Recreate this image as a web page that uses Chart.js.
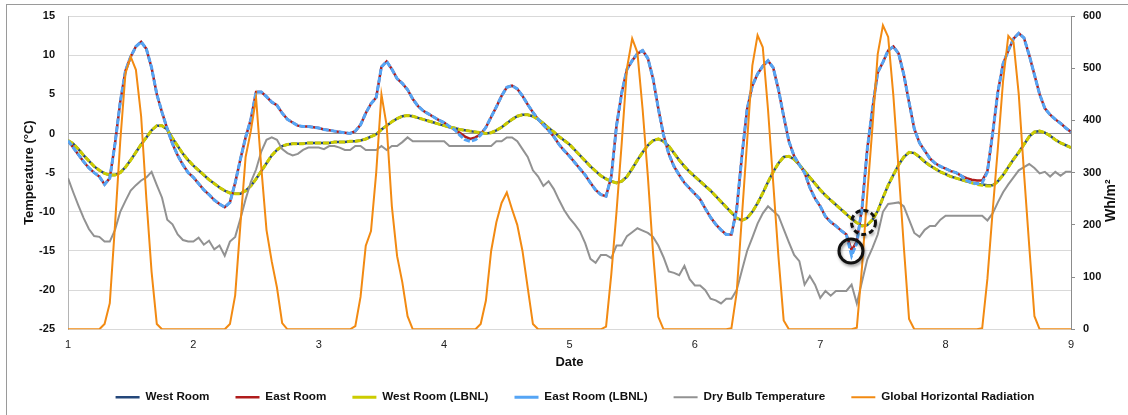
<!DOCTYPE html>
<html>
<head>
<meta charset="utf-8">
<script src="https://cdn.jsdelivr.net/npm/chart.js@4.4.1/dist/chart.umd.min.js"></script>
<style>
html, body { margin: 0; padding: 0; background: #fff; }
#wrap { position: relative; width: 1128px; height: 415px; overflow: hidden; }
#frame { position: absolute; left: 6px; top: 4px; width: 1130px; height: 420px; border-left: 1px solid #9a9a9a; border-top: 1px solid #9a9a9a; }
canvas { position: absolute; left: 0; top: 0; }
</style>
</head>
<body>
<div id="wrap"><div id="frame"></div><canvas id="tempChart" width="1128" height="415"></canvas></div>
<script>
// hourly readings, one row per day (day 1 .. day 8, then the first hour of day 9)
var westRoom = [
  -0.9,-1.3,-2.0,-2.8,-3.5,-4.2,-4.7,-5.1,-5.3,-5.3,-5.0,-4.3,-3.4,-2.4,-1.4,-0.5,0.4,1.0,1.0,0.5,-0.6,-1.6,-2.6,-3.4,
  -4.1,-4.7,-5.3,-5.9,-6.4,-6.9,-7.3,-7.6,-7.7,-7.7,-7.3,-6.7,-5.8,-4.8,-3.8,-2.8,-2.1,-1.6,-1.4,-1.3,-1.3,-1.3,-1.2,-1.2,
  -1.2,-1.2,-1.2,-1.1,-1.1,-1.1,-1.0,-1.0,-0.9,-0.7,-0.4,-0.1,0.5,1.0,1.5,1.9,2.2,2.3,2.2,2.0,1.8,1.6,1.4,1.2,
  1.0,0.8,0.7,0.5,0.4,0.3,0.2,0.1,0.0,0.1,0.4,0.8,1.3,1.8,2.2,2.4,2.4,2.2,1.8,1.3,0.7,0.2,-0.4,-0.9,
  -1.4,-2.1,-2.8,-3.5,-4.2,-4.8,-5.4,-5.8,-6.1,-6.3,-6.1,-5.5,-4.5,-3.4,-2.4,-1.5,-0.9,-0.7,-1.0,-1.6,-2.5,-3.4,-4.2,-4.9,
  -5.5,-6.1,-6.7,-7.3,-8.0,-8.7,-9.4,-10.1,-10.8,-11.1,-10.8,-10.0,-8.9,-7.6,-6.2,-4.9,-3.8,-3.0,-2.9,-3.3,-4.0,-4.8,-5.6,-6.4,
  -7.2,-7.9,-8.5,-9.1,-9.7,-10.3,-10.9,-11.4,-11.8,-11.7,-11.0,-9.9,-8.2,-6.6,-5.3,-4.0,-3.0,-2.4,-2.5,-3.0,-3.6,-4.1,-4.5,-4.9,
  -5.2,-5.5,-5.7,-5.9,-6.1,-6.3,-6.4,-6.5,-6.6,-6.6,-6.1,-5.3,-4.3,-3.3,-2.4,-1.4,-0.4,0.2,0.3,0.1,-0.3,-0.8,-1.2,-1.5,
  -1.8
];
var eastRoom = [
  -0.9,-1.8,-2.7,-3.6,-4.4,-5.0,-5.5,-6.5,-5.7,-1.3,4.0,8.0,9.8,11.1,11.7,10.8,8.4,5.0,2.7,0.6,-1.3,-2.8,-4.0,-5.0,
  -5.6,-6.4,-7.2,-7.8,-8.5,-9.0,-9.4,-8.8,-6.3,-3.3,-0.5,1.8,5.3,5.3,4.7,4.0,3.6,2.6,1.8,1.4,1.0,0.9,0.9,0.8,
  0.7,0.5,0.4,0.3,0.2,0.1,0.0,0.3,1.1,2.6,3.8,4.6,8.5,9.2,8.2,7.0,6.4,5.6,4.4,3.5,2.9,2.5,2.1,1.7,
  1.4,0.9,0.5,0.1,-0.4,-0.7,-0.5,-0.1,0.8,2.1,3.4,4.8,5.9,6.1,5.7,4.8,3.7,2.7,1.8,1.1,0.4,-0.4,-1.4,-2.2,
  -2.9,-3.7,-4.5,-5.3,-6.3,-7.2,-7.8,-8.0,-5.5,1.0,5.2,8.2,9.3,10.2,10.6,9.6,7.0,3.2,-0.2,-2.6,-4.2,-5.3,-6.3,-7.0,
  -7.7,-8.4,-9.6,-10.7,-11.6,-12.3,-12.9,-12.9,-9.7,-2.9,3.1,6.1,7.6,8.6,9.3,8.4,5.6,2.2,-1.0,-2.9,-4.0,-5.0,-6.9,-8.3,
  -9.3,-10.6,-11.3,-11.8,-12.4,-12.9,-14.9,-13.8,-9.5,-2.0,3.2,7.8,9.1,10.6,11.1,10.2,7.5,4.0,0.6,-1.2,-2.2,-3.2,-3.8,-4.2,
  -4.5,-4.8,-5.0,-5.4,-5.7,-5.9,-6.0,-6.0,-4.8,0.0,5.3,8.9,10.6,12.1,12.8,12.2,10.0,7.5,5.0,3.2,2.4,1.8,1.3,0.7,
  0.2
];
var westLbnl = [
  -0.9,-1.3,-2.0,-2.8,-3.5,-4.2,-4.7,-5.1,-5.3,-5.3,-5.0,-4.3,-3.4,-2.4,-1.4,-0.5,0.4,1.0,1.0,0.5,-0.6,-1.6,-2.6,-3.4,
  -4.1,-4.7,-5.3,-5.9,-6.4,-6.9,-7.3,-7.6,-7.7,-7.7,-7.3,-6.7,-5.8,-4.8,-3.8,-2.8,-2.1,-1.6,-1.4,-1.3,-1.3,-1.3,-1.2,-1.2,
  -1.2,-1.2,-1.2,-1.1,-1.1,-1.1,-1.0,-1.0,-0.9,-0.7,-0.4,-0.1,0.5,1.0,1.5,1.9,2.2,2.3,2.2,2.0,1.8,1.6,1.4,1.2,
  1.0,0.8,0.7,0.5,0.4,0.3,0.2,0.1,0.0,0.1,0.4,0.8,1.3,1.8,2.2,2.4,2.4,2.2,1.8,1.3,0.7,0.2,-0.4,-0.9,
  -1.4,-2.1,-2.8,-3.5,-4.2,-4.8,-5.4,-5.8,-6.1,-6.3,-6.1,-5.5,-4.5,-3.4,-2.4,-1.5,-0.9,-0.7,-1.0,-1.6,-2.5,-3.4,-4.2,-4.9,
  -5.5,-6.1,-6.7,-7.3,-8.0,-8.7,-9.4,-10.1,-10.8,-11.1,-10.8,-10.0,-8.9,-7.6,-6.2,-4.9,-3.8,-3.0,-2.9,-3.3,-4.0,-4.8,-5.6,-6.4,
  -7.2,-7.9,-8.5,-9.1,-9.7,-10.3,-10.9,-11.4,-11.8,-11.7,-11.0,-9.9,-8.2,-6.6,-5.3,-4.0,-3.0,-2.4,-2.5,-3.0,-3.6,-4.1,-4.5,-4.9,
  -5.2,-5.5,-5.7,-5.9,-6.1,-6.3,-6.5,-6.6,-6.7,-6.7,-6.1,-5.3,-4.3,-3.3,-2.4,-1.4,-0.4,0.2,0.3,0.1,-0.3,-0.8,-1.2,-1.5,
  -1.8
];
var eastLbnl = [
  -0.9,-1.8,-2.7,-3.6,-4.4,-5.0,-5.5,-6.5,-5.7,-1.3,4.0,8.0,9.8,11.1,11.7,10.8,8.4,5.0,2.7,0.6,-1.3,-2.8,-4.0,-5.0,
  -5.6,-6.4,-7.2,-7.8,-8.5,-9.0,-9.4,-8.8,-6.3,-3.3,-0.5,1.8,5.3,5.3,4.7,4.0,3.6,2.6,1.8,1.4,1.0,0.9,0.9,0.8,
  0.7,0.5,0.4,0.3,0.2,0.1,0.0,0.3,1.1,2.6,3.8,4.6,8.5,9.2,8.2,7.0,6.4,5.6,4.4,3.5,2.9,2.5,2.1,1.7,
  1.4,0.9,0.5,-0.2,-0.8,-1.0,-0.8,-0.2,0.8,2.1,3.4,4.8,5.9,6.1,5.7,4.8,3.7,2.7,1.8,1.1,0.4,-0.4,-1.4,-2.2,
  -2.9,-3.7,-4.5,-5.3,-6.3,-7.2,-7.8,-8.0,-5.5,1.0,5.2,8.2,9.3,10.2,10.6,9.6,7.0,3.2,-0.2,-2.6,-4.2,-5.3,-6.3,-7.0,
  -7.7,-8.4,-9.6,-10.7,-11.6,-12.3,-12.9,-12.9,-9.7,-2.9,3.1,6.1,7.6,8.6,9.3,8.4,5.6,2.2,-1.0,-2.9,-4.0,-5.0,-6.9,-8.3,
  -9.3,-10.6,-11.3,-11.8,-12.4,-12.9,-15.6,-14.0,-9.5,-2.0,3.2,7.8,9.1,10.6,11.1,10.2,7.5,4.0,0.6,-1.2,-2.2,-3.2,-3.8,-4.2,
  -4.5,-4.8,-5.0,-5.4,-6.0,-6.3,-6.4,-6.3,-4.9,0.0,5.3,8.9,10.6,12.1,12.8,12.2,10.0,7.5,5.0,3.2,2.4,1.8,1.3,0.7,
  0.2
];
var dryBulb = [
  -5.7,-7.5,-9.2,-10.8,-12.2,-13.1,-13.2,-13.8,-13.8,-12.3,-10.0,-8.6,-7.3,-6.6,-6.0,-5.6,-4.9,-6.6,-8.2,-11.0,-11.6,-12.9,-13.6,-13.8,
  -13.8,-13.3,-14.2,-13.7,-14.8,-14.3,-15.6,-13.8,-13.2,-10.9,-8.4,-6.2,-4.6,-2.3,-0.8,-0.5,-0.8,-2.0,-2.5,-2.8,-2.6,-2.1,-1.8,-1.8,
  -1.8,-2.0,-1.6,-1.6,-1.8,-2.1,-2.1,-1.6,-1.6,-2.1,-2.1,-2.1,-1.6,-2.1,-1.6,-1.6,-1.1,-0.5,-1.0,-1.0,-1.0,-1.0,-1.0,-1.0,
  -1.0,-1.6,-1.6,-1.6,-1.6,-1.6,-1.6,-1.6,-1.6,-1.6,-1.0,-1.0,-0.5,-0.5,-1.0,-2.0,-3.0,-4.7,-5.5,-6.7,-6.1,-7.1,-8.5,-9.8,
  -10.8,-11.6,-12.5,-14.0,-16.0,-16.5,-15.5,-15.5,-15.9,-14.3,-14.3,-13.1,-12.6,-12.1,-12.4,-12.7,-13.2,-14.3,-15.8,-17.6,-17.8,-18.1,-16.9,-18.6,
  -19.4,-19.4,-20.0,-21.1,-21.3,-21.7,-21.1,-21.1,-20.0,-17.5,-15.0,-13.3,-11.5,-10.2,-9.3,-9.9,-10.5,-12.2,-13.9,-15.5,-16.3,-19.3,-18.2,-19.3,
  -21.0,-20.1,-20.7,-20.1,-20.1,-20.1,-19.3,-21.7,-18.9,-16.1,-14.6,-12.9,-10.0,-9.0,-8.9,-8.8,-9.3,-11.0,-12.7,-13.2,-12.3,-11.8,-11.8,-11.0,
  -10.5,-10.5,-10.5,-10.5,-10.5,-10.5,-10.5,-10.5,-11.1,-10.2,-8.8,-7.5,-6.5,-5.6,-4.7,-4.3,-3.9,-4.4,-5.1,-4.9,-5.5,-4.9,-5.4,-4.9,
  -4.9
];
var radiation = [
  0,0,0,0,0,0,0,10,50,200,360,490,522,497,408,250,110,10,0,0,0,0,0,0,
  0,0,0,0,0,0,0,10,65,200,330,380,443,310,190,130,80,12,0,0,0,0,0,0,
  0,0,0,0,0,0,0,6,62,160,188,300,450,390,235,140,90,25,0,0,0,0,0,0,
  0,0,0,0,0,0,0,10,55,150,205,242,262,230,200,150,80,10,0,0,0,0,0,0,
  0,0,0,0,0,0,0,5,105,225,357,500,557,530,421,293,146,24,0,0,0,0,0,0,
  0,0,0,0,0,0,0,2,70,215,360,505,563,540,421,280,139,17,0,0,0,0,0,0,
  0,0,0,0,0,0,0,3,120,259,388,527,582,560,447,306,158,20,0,0,0,0,0,0,
  0,0,0,0,0,0,0,2,97,226,347,476,562,550,450,300,160,25,0,0,0,0,0,0,
  0
];
var dayTicks = [1, 2, 3, 4, 5, 6, 7, 8, 9];
var tempTicks = [15, 10, 5, 0, -5, -10, -15, -20, -25];
var radTicks = [600, 500, 400, 300, 200, 100, 0];
// the two circled points (day, °C)
var circled = [
  { x: 7.245, y: -15.0, dash: [] },
  { x: 7.345, y: -11.35, dash: [5, 3] }
];

// x value of every hourly reading
var hours = [];
for (var i = 0; i < radiation.length; i++) hours.push(dayTicks[0] + i / 24);
function pts(arr) {
  return arr.map(function (v, i) { return { x: hours[i], y: v }; });
}

var FONT = '"Liberation Sans", Arial, sans-serif';

var extras = {
  id: 'extras',
  afterDatasetsDraw: function (chart) {
    var ctx = chart.ctx, xs = chart.scales.x, ys = chart.scales.y;
    circled.forEach(function (c) {
      ctx.save();
      ctx.beginPath();
      ctx.arc(xs.getPixelForValue(c.x), ys.getPixelForValue(c.y), 12, 0, Math.PI * 2);
      ctx.lineWidth = 3;
      ctx.strokeStyle = '#111';
      ctx.setLineDash(c.dash);
      ctx.shadowColor = 'rgba(0,0,0,0.4)';
      ctx.shadowBlur = 3;
      ctx.shadowOffsetX = 1;
      ctx.shadowOffsetY = 2;
      ctx.stroke();
      ctx.restore();
    });
  },
  afterDraw: function (chart) {
    // right axis title reads bottom to top, like Excel's
    var a = chart.chartArea, ctx = chart.ctx;
    ctx.save();
    ctx.translate(a.right + 40, (a.top + a.bottom) / 2 + 28);
    ctx.rotate(-Math.PI / 2);
    ctx.font = 'bold 14px ' + FONT;
    ctx.textAlign = 'center';
    ctx.textBaseline = 'middle';
    ctx.fillStyle = '#111';
    ctx.fillText('Wh/m\u00B2', 0, 0);
    ctx.restore();
  }
};

function noPad(s) { s.paddingTop = 0; s.paddingBottom = 0; }

var ctxT = document.getElementById('tempChart').getContext('2d');
var tempChart = new Chart(ctxT, {
  type: 'line',
  data: {
    datasets: [
      { label: 'West Room', data: pts(westRoom), borderColor: '#24477a', borderWidth: 2.5, order: 6 },
      { label: 'East Room', data: pts(eastRoom), borderColor: '#b01c1c', borderWidth: 2.5, order: 5 },
      { label: 'West Room (LBNL)', data: pts(westLbnl), borderColor: '#cccc00', borderWidth: 3, borderDash: [6, 2], order: 4 },
      { label: 'East Room (LBNL)', data: pts(eastLbnl), borderColor: '#55a5f5', borderWidth: 3, borderDash: [6, 2], order: 3 },
      { label: 'Dry Bulb Temperature', data: pts(dryBulb), borderColor: '#929292', borderWidth: 2, order: 2 },
      { label: 'Global Horizontal Radiation', data: pts(radiation), borderColor: '#f28a12', borderWidth: 2, yAxisID: 'y2', order: 1 }
    ]
  },
  options: {
    responsive: false,
    animation: false,
    devicePixelRatio: 1,
    elements: { point: { radius: 0 }, line: { tension: 0, fill: false } },
    layout: { padding: { left: 22, right: 0, top: 16, bottom: 2 } },
    plugins: {
      tooltip: { enabled: false },
      legend: {
        position: 'bottom',
        labels: {
          usePointStyle: true,
          pointStyle: 'line',
          pointStyleWidth: 24,
          padding: 26,
          color: '#111',
          font: { family: FONT, size: 11.7, weight: 'bold' },
          sort: function (a, b) { return a.datasetIndex - b.datasetIndex; }
        }
      }
    },
    scales: {
      x: {
        type: 'linear',
        min: dayTicks[0],
        max: dayTicks[dayTicks.length - 1],
        afterBuildTicks: function (s) { s.ticks = dayTicks.map(function (v) { return { value: v }; }); },
        afterFit: function (s) { s.height = 36; },
        grid: { display: false, drawTicks: false },
        border: { display: false },
        ticks: { padding: 9, color: '#222', font: { family: FONT, size: 11 } },
        title: { display: true, text: 'Date', color: '#111', font: { family: FONT, size: 13, weight: 'bold' }, padding: { top: 0, bottom: -5 } }
      },
      y: {
        position: 'left',
        min: -25,
        max: 15,
        afterBuildTicks: function (s) { s.ticks = tempTicks.map(function (v) { return { value: v }; }); },
        afterFit: function (s) { s.width = 46; noPad(s); },
        grid: {
          drawTicks: false,
          color: function (c) { return c.tick && c.tick.value === 0 ? '#8c8c8c' : '#d9d9d9'; }
        },
        border: { display: true, color: '#b4b4b4' },
        ticks: { padding: 13, color: '#111', font: { family: FONT, size: 11, weight: 'bold' } },
        title: { display: true, text: 'Temperature (°C)', color: '#111', font: { family: FONT, size: 13, weight: 'bold' }, padding: { top: 0, bottom: 0 } }
      },
      y2: {
        position: 'right',
        min: 0,
        max: 600,
        afterBuildTicks: function (s) { s.ticks = radTicks.map(function (v) { return { value: v }; }); },
        afterFit: function (s) { s.width = 57; noPad(s); },
        grid: { drawOnChartArea: false, drawTicks: true, tickLength: 4, color: '#8c8c8c' },
        border: { display: true, color: '#8c8c8c' },
        ticks: { padding: 8, color: '#111', font: { family: FONT, size: 11, weight: 'bold' } }
      }
    }
  },
  plugins: [extras]
});
</script>
</body>
</html>
